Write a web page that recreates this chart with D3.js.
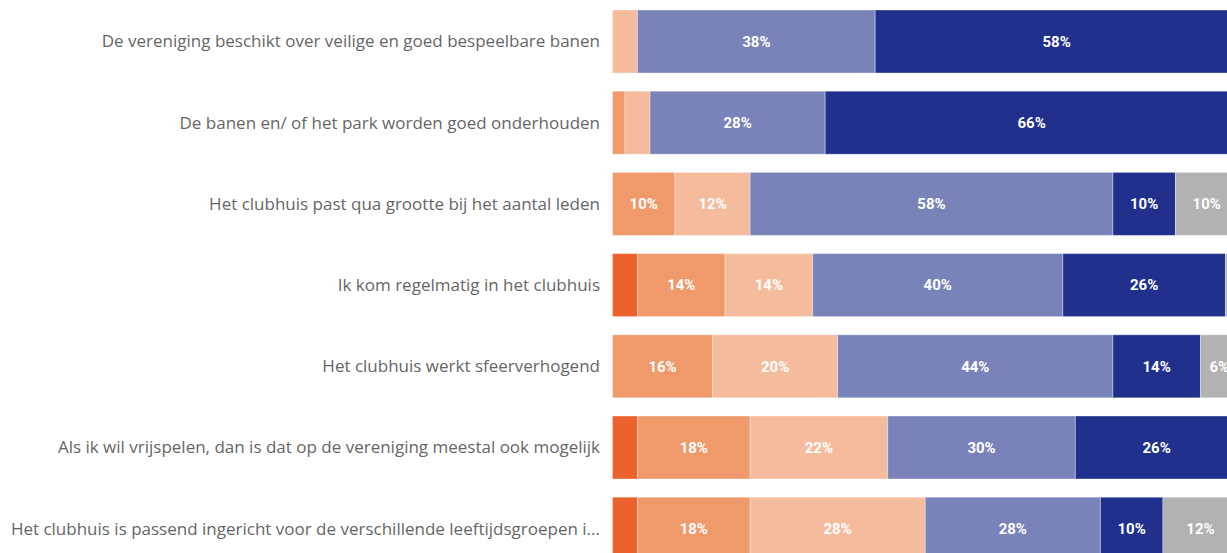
<!DOCTYPE html>
<html>
<head>
<meta charset="utf-8">
<script src="https://cdn.jsdelivr.net/npm/d3@7"></script>
<style>
  body { margin: 0; background: #fff; }
  .cat { font-family: "Open Sans", sans-serif; font-size: 17px; fill: #666; }
  .pct { font-family: Roboto, sans-serif; font-weight: bold; font-size: 15px; fill: #fff; }
</style>
</head>
<body>
<script>
// statements (top to bottom)
var categories = [
  "De vereniging beschikt over veilige en goed bespeelbare banen",
  "De banen en/ of het park worden goed onderhouden",
  "Het clubhuis past qua grootte bij het aantal leden",
  "Ik kom regelmatig in het clubhuis",
  "Het clubhuis werkt sfeerverhogend",
  "Als ik wil vrijspelen, dan is dat op de vereniging meestal ook mogelijk",
  "Het clubhuis is passend ingericht voor de verschillende leeftijdsgroepen i..."
];

// answer categories (left to right)
var answers = ["Helemaal mee oneens", "Mee oneens", "Neutraal", "Mee eens", "Helemaal mee eens", "Weet niet"];

// percentages per answer, one value per statement
var helemaalOneens = [0, 0, 0, 4, 0, 4, 4];
var meeOneens      = [0, 2, 10, 14, 16, 18, 18];
var neutraal       = [4, 4, 12, 14, 20, 22, 28];
var meeEens        = [38, 28, 58, 40, 44, 30, 28];
var helemaalEens   = [58, 66, 10, 26, 14, 26, 10];
var weetNiet       = [0, 0, 10, 2, 6, 0, 12];

var colors = ["#EC612C", "#F09A6C", "#F4BC9D", "#7983B9", "#21308C", "#B2B2B2"];

var width = 1227, height = 553;

var svg = d3.select("body").append("svg")
  .attr("width", width)
  .attr("height", height);

// build table for the stack
var rows = categories.map(function(c, i){
  return {
    cat: c,
    "Helemaal mee oneens": helemaalOneens[i],
    "Mee oneens": meeOneens[i],
    "Neutraal": neutraal[i],
    "Mee eens": meeEens[i],
    "Helemaal mee eens": helemaalEens[i],
    "Weet niet": weetNiet[i]
  };
});

var series = d3.stack().keys(answers)(rows);

var x = d3.scaleLinear().domain([0, 100]).range([612.5, 1238]);

// step 81.2, bar 63
var y = d3.scaleBand()
  .domain(categories)
  .range([10, 10 + 81.2 * 6 + 63])
  .paddingInner(18.2 / 81.2)
  .paddingOuter(0);

var color = d3.scaleOrdinal().domain(answers).range(colors);

// category labels
svg.selectAll(".cat")
  .data(categories)
  .enter()
  .append("text")
  .attr("class", "cat")
  .attr("x", 600)
  .attr("y", function(d){ return y(d) + y.bandwidth() / 2; })
  .attr("dy", "0.35em")
  .attr("text-anchor", "end")
  .text(function(d){ return d; });

// bars
var groups = svg.selectAll(".serie")
  .data(series)
  .enter()
  .append("g")
  .attr("class", "serie")
  .attr("fill", function(d){ return color(d.key); });

groups.selectAll("rect")
  .data(function(d){ return d.filter(function(s){ return s[1] - s[0] > 0; }); })
  .enter()
  .append("rect")
  .attr("x", function(d){ return x(d[0]); })
  .attr("y", function(d){ return y(d.data.cat); })
  .attr("width", function(d){ return x(d[1]) - x(d[0]); })
  .attr("height", y.bandwidth())
  .attr("stroke", "rgba(255,255,255,0.35)")
  .attr("stroke-width", 1);

// value labels
groups.selectAll(".pct")
  .data(function(d){ return d.filter(function(s){ return s[1] - s[0] >= 5; }); })
  .enter()
  .append("text")
  .attr("class", "pct")
  .attr("x", function(d){ return (x(d[0]) + x(d[1])) / 2; })
  .attr("y", function(d){ return y(d.data.cat) + y.bandwidth() / 2; })
  .attr("dy", "0.35em")
  .attr("text-anchor", "middle")
  .text(function(d){ return (d[1] - d[0]) + "%"; });
</script>
</body>
</html>
